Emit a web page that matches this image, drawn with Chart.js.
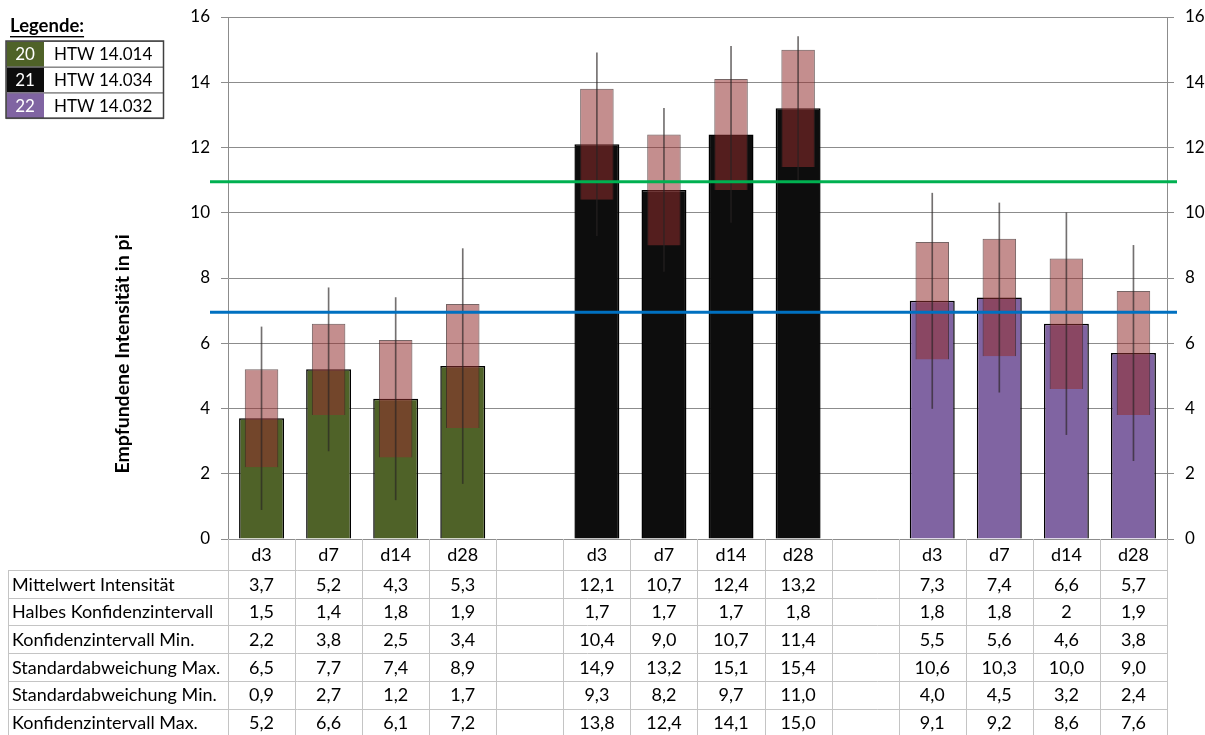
<!DOCTYPE html>
<html lang="de">
<head>
    <meta charset="UTF-8">
    <title>Empfundene Intensität</title>
    <style>
        body { margin: 0; background: #fff; }
        .chartBox { width: 1205px; height: 735px; }
    </style>
</head>
<body>
<div class="chartBox">
    <canvas id="myChart"></canvas>
</div>
<script src="https://cdn.jsdelivr.net/npm/chart.js"></script>
<script>
    // categories (empty slots separate the three products)
    const days = ['d3', 'd7', 'd14', 'd28', '', 'd3', 'd7', 'd14', 'd28', '', 'd3', 'd7', 'd14', 'd28'];
    const groupOf = [0, 0, 0, 0, null, 1, 1, 1, 1, null, 2, 2, 2, 2];

    const mean   = [3.7, 5.2, 4.3, 5.3, null, 12.1, 10.7, 12.4, 13.2, null, 7.3, 7.4, 6.6, 5.7];
    const halfCI = [1.5, 1.4, 1.8, 1.9, null, 1.7, 1.7, 1.7, 1.8, null, 1.8, 1.8, 2, 1.9];
    const ciMin  = [2.2, 3.8, 2.5, 3.4, null, 10.4, 9.0, 10.7, 11.4, null, 5.5, 5.6, 4.6, 3.8];
    const sdMax  = [6.5, 7.7, 7.4, 8.9, null, 14.9, 13.2, 15.1, 15.4, null, 10.6, 10.3, 10.0, 9.0];
    const sdMin  = [0.9, 2.7, 1.2, 1.7, null, 9.3, 8.2, 9.7, 11.0, null, 4.0, 4.5, 3.2, 2.4];
    const ciMax  = [5.2, 6.6, 6.1, 7.2, null, 13.8, 12.4, 14.1, 15.0, null, 9.1, 9.2, 8.6, 7.6];

    const legendCodes = ['20', '21', '22'];
    const legendNames = ['HTW 14.014', 'HTW 14.034', 'HTW 14.032'];
    const groupColors = ['#4F6228', '#0D0D0D', '#8064A2'];

    const refLines = [10.95, 6.95];
    const refColors = ['#00B050', '#0070C0'];

    const rowLabels = ['Mittelwert Intensität', 'Halbes Konfidenzintervall', 'Konfidenzintervall Min.',
        'Standardabweichung Max.', 'Standardabweichung Min.', 'Konfidenzintervall Max.'];
    const rows = [mean, halfCI, ciMin, sdMax, sdMin, ciMax];

    const FONT = 'Lato';

    function fmt(v, row) {
        if (v === null) return '';
        if (row === 1) return String(v).replace('.', ',');
        return v.toFixed(1).replace('.', ',');
    }

    // reference lines, drawn over the bars
    const refLinePlugin = {
        id: 'refLines',
        afterDatasetsDraw(chart) {
            const {ctx, chartArea, scales} = chart;
            ctx.save();
            ctx.lineWidth = 3;
            refLines.forEach((v, i) => {
                const y = scales.y.getPixelForValue(v);
                ctx.strokeStyle = refColors[i];
                ctx.beginPath();
                ctx.moveTo(chartArea.left - 18, y);
                ctx.lineTo(chartArea.right + 10, y);
                ctx.stroke();
            });
            ctx.restore();
        }
    };

    // data table under the chart, title and legend box
    const tablePlugin = {
        id: 'table',
        afterDraw(chart) {
            const {ctx, chartArea, scales} = chart;
            const x = scales.x;
            const half = (x.getPixelForValue(1) - x.getPixelForValue(0)) / 2;
            const top = chartArea.bottom;
            const headBottom = 570;
            const rowH = 27.7;
            const tableLeft = 8;
            const right = x.getPixelForValue(days.length - 1) + half;

            ctx.save();
            ctx.strokeStyle = '#c4c4c4';
            ctx.lineWidth = 1;
            // vertical dividers
            for (let i = 0; i <= days.length; i++) {
                const xx = Math.round(x.getPixelForValue(0) - half + i * 2 * half) + 0.5;
                ctx.beginPath();
                ctx.moveTo(xx, top);
                ctx.lineTo(xx, 735);
                ctx.stroke();
            }
            ctx.beginPath();
            ctx.moveTo(tableLeft + 0.5, headBottom);
            ctx.lineTo(tableLeft + 0.5, 735);
            ctx.stroke();
            // horizontal rows
            for (let r = 0; r <= rows.length; r++) {
                const yy = Math.round(headBottom + r * rowH) + 0.5;
                ctx.beginPath();
                ctx.moveTo(tableLeft, yy);
                ctx.lineTo(right, yy);
                ctx.stroke();
            }

            ctx.fillStyle = '#000';
            ctx.font = '18px ' + FONT;
            ctx.textBaseline = 'middle';
            ctx.textAlign = 'center';
            days.forEach((d, i) => {
                ctx.fillText(d, x.getPixelForValue(i), (top + headBottom) / 2 + 1);
            });
            rows.forEach((arr, r) => {
                const cy = headBottom + r * rowH + rowH / 2 + 1;
                ctx.textAlign = 'left';
                ctx.fillText(rowLabels[r], 12, cy);
                ctx.textAlign = 'center';
                arr.forEach((v, i) => {
                    ctx.fillText(fmt(v, r), x.getPixelForValue(i), cy);
                });
            });

            // axis title
            ctx.save();
            ctx.translate(123, 354);
            ctx.rotate(-Math.PI / 2);
            ctx.font = 'bold 19.5px ' + FONT;
            ctx.textAlign = 'center';
            ctx.fillText('Empfundene Intensität in pi', 0, 0);
            ctx.restore();

            // legend box
            ctx.font = 'bold 18.5px ' + FONT;
            ctx.textAlign = 'left';
            ctx.fillText('Legende:', 10, 26);
            const w = ctx.measureText('Legende:').width;
            ctx.fillRect(10, 36, w, 1.4);
            const lx = 6, ly = 41, lh = 25.7, cw = 38, lw = 157;
            ctx.font = '17px ' + FONT;
            legendCodes.forEach((c, i) => {
                const yy = ly + i * lh;
                ctx.fillStyle = groupColors[i];
                ctx.fillRect(lx, yy, cw, lh);
                ctx.fillStyle = '#fff';
                ctx.textAlign = 'center';
                ctx.fillText(c, lx + cw / 2, yy + lh / 2 + 1);
                ctx.fillStyle = '#000';
                ctx.textAlign = 'left';
                ctx.fillText(legendNames[i], lx + cw + 10, yy + lh / 2 + 1);
                ctx.strokeStyle = '#7f7f7f';
                ctx.strokeRect(lx + 0.5, yy + 0.5, lw, lh);
            });
            ctx.strokeStyle = '#404040';
            ctx.lineWidth = 1.5;
            ctx.strokeRect(lx, ly, lw + 0.5, lh * 3);
            ctx.restore();
        }
    };

    const barColors = groupOf.map(g => g === null ? 'transparent' : groupColors[g]);

    const data = {
        labels: days,
        datasets: [
            {
                label: 'Standardabweichung',
                data: sdMin.map((v, i) => v === null ? null : [v, sdMax[i]]),
                backgroundColor: 'rgba(40,35,35,0.65)',
                barThickness: 1,
                grouped: false,
                order: 0
            },
            {
                label: 'Konfidenzintervall',
                data: ciMin.map((v, i) => v === null ? null : [v, ciMax[i]]),
                backgroundColor: 'rgba(146,46,46,0.54)',
                borderColor: 'rgba(60,35,35,0.7)',
                borderWidth: 1,
                barPercentage: 0.5,
                categoryPercentage: 1,
                grouped: false,
                order: 1
            },
            {
                label: 'Mittelwert Intensität',
                data: mean,
                backgroundColor: barColors,
                borderColor: '#000',
                borderWidth: 1.5,
                barPercentage: 0.67,
                categoryPercentage: 1,
                grouped: false,
                order: 2
            }
        ]
    };

    const tickFont = {family: FONT, size: 17};

    // fixed axis sizes so the plot sits where the table columns are
    function fitY(width) {
        return s => {
            s.width = width;
            s.paddingTop = 0;
            s.paddingBottom = 0;
        };
    }

    const config = {
        type: 'bar',
        data: data,
        options: {
            responsive: true,
            maintainAspectRatio: false,
            animation: false,
            layout: {padding: {left: 168, right: 0, top: 17, bottom: 0}},
            plugins: {legend: {display: false}, tooltip: {enabled: false}},
            scales: {
                x: {
                    grid: {display: false},
                    border: {display: false},
                    ticks: {display: false},
                    afterFit: s => { s.height = 196; }
                },
                y: {
                    min: 0, max: 16,
                    ticks: {stepSize: 2, color: '#000', font: tickFont, padding: 11},
                    grid: {color: '#8c8c8c', tickLength: 7},
                    border: {color: '#8c8c8c'},
                    afterFit: fitY(60)
                },
                y2: {
                    position: 'right',
                    min: 0, max: 16,
                    ticks: {stepSize: 2, color: '#000', font: tickFont, padding: 11},
                    grid: {color: '#8c8c8c', tickLength: 7, drawOnChartArea: false},
                    border: {color: '#8c8c8c'},
                    afterFit: fitY(38)
                }
            }
        },
        plugins: [refLinePlugin, tablePlugin]
    };

    const myChart = new Chart(document.getElementById('myChart'), config);
</script>
</body>
</html>
